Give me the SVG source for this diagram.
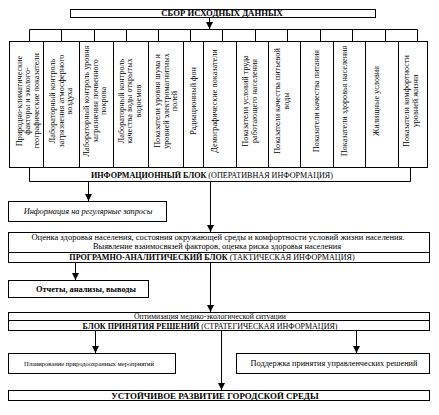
<svg xmlns="http://www.w3.org/2000/svg" width="439" height="415" viewBox="0 0 439 415">
<defs>
<marker id="ah" markerUnits="userSpaceOnUse" markerWidth="7" markerHeight="7" refX="7" refY="3.5" orient="auto">
<path d="M0,0 L7,3.5 L0,7 z" fill="#000"/>
</marker>
<style>
.box{fill:#fff;stroke:#000;stroke-width:1}
.ln{fill:none;stroke:#000;stroke-width:1}
.ar{fill:none;stroke:#000;stroke-width:1;marker-end:url(#ah)}
text{font-family:"Liberation Serif","Times New Roman",serif;fill:#000}
.col{font-size:8.2px;text-anchor:middle}
.t{font-size:8.5px;text-anchor:middle}
.b{font-weight:bold}
.i{font-style:italic}
</style>
</defs>
<rect width="439" height="415" fill="#fff"/>

<g id="connectors">
<line class="ar" x1="209.5" y1="17" x2="209.5" y2="29"/>
<line class="ln" x1="29.5" y1="29.5" x2="417.5" y2="29.5"/>
<path class="ln" d="M29.5,29.5V41 M61.5,29.5V41 M94.5,29.5V41 M126.5,29.5V41 M158.5,29.5V41 M190.5,29.5V41 M222.5,29.5V41 M255.5,29.5V41 M287.5,29.5V41 M320.5,29.5V41 M352.5,29.5V41 M385.5,29.5V41 M417.5,29.5V41"/>
<line class="ar" x1="88.5" y1="181" x2="88.5" y2="201"/>
<line class="ar" x1="210.5" y1="181" x2="210.5" y2="232"/>
<line class="ar" x1="75.5" y1="262" x2="75.5" y2="280"/>
<line class="ar" x1="210.5" y1="262" x2="210.5" y2="312"/>
<line class="ar" x1="95.5" y1="330" x2="95.5" y2="353"/>
<line class="ar" x1="356.5" y1="330" x2="356.5" y2="353"/>
<line class="ar" x1="221.5" y1="330" x2="221.5" y2="390"/>
</g>

<g id="sbor">
<rect class="box" x="70.5" y="9.5" width="305" height="8"/>
<text class="t b" x="222" y="16" style="font-size:8.7px">СБОР ИСХОДНЫХ ДАННЫХ</text>
</g>

<g id="columns">
<rect class="box" x="9.5" y="41.5" width="418" height="126"/>
<path class="ln" d="M43.5,41.5V167.5 M79.5,41.5V167.5 M113.5,41.5V167.5 M148.5,41.5V167.5 M183.5,41.5V167.5 M203.5,41.5V167.5 M236.5,41.5V167.5 M268.5,41.5V167.5 M300.5,41.5V167.5 M333.5,41.5V167.5 M365.5,41.5V167.5 M398.5,41.5V167.5"/>
</g>
<g id="c1"><text class="col" transform="translate(21.5,101) rotate(-90)">Природно-климатические</text><text class="col" transform="translate(30,101) rotate(-90)">факторы и эколого-</text><text class="col" transform="translate(38.5,101) rotate(-90)">географические показатели</text></g>
<g id="c2"><text class="col" transform="translate(55.3,101) rotate(-90)">Лабораторный контроль</text><text class="col" transform="translate(63.8,101) rotate(-90)">загрязнения атмосферного</text><text class="col" transform="translate(72.3,101) rotate(-90)">воздуха</text></g>
<g id="c3"><text class="col" transform="translate(89.3,101) rotate(-90)">Лабораторный контроль уровня</text><text class="col" transform="translate(97.8,101) rotate(-90)">загрязнения почвенного</text><text class="col" transform="translate(106.3,101) rotate(-90)">покрова</text></g>
<g id="c4"><text class="col" transform="translate(123.8,101) rotate(-90)">Лабораторный контроль</text><text class="col" transform="translate(132.3,101) rotate(-90)">качества воды открытых</text><text class="col" transform="translate(140.8,101) rotate(-90)">водоемов</text></g>
<g id="c5"><text class="col" transform="translate(160.3,101) rotate(-90)">Показатели уровня шума и</text><text class="col" transform="translate(168.8,101) rotate(-90)">уровней электромагнитных</text><text class="col" transform="translate(177.3,101) rotate(-90)">полей</text></g>
<g id="c6"><text class="col" transform="translate(195.8,101) rotate(-90)">Радиационный фон</text></g>
<g id="c7"><text class="col" transform="translate(217,101) rotate(-90)">Демографические показатели</text></g>
<g id="c8"><text class="col" transform="translate(247.5,101) rotate(-90)">Показатели условий труда</text><text class="col" transform="translate(256.5,101) rotate(-90)">работающего населения</text></g>
<g id="c9"><text class="col" transform="translate(280,101) rotate(-90)">Показатели качества питьевой</text><text class="col" transform="translate(289,101) rotate(-90)">воды</text></g>
<g id="c10"><text class="col" transform="translate(318.5,101) rotate(-90)">Показатели качества питания</text></g>
<g id="c11"><text class="col" transform="translate(346.5,101) rotate(-90)">Показатели здоровья населения</text></g>
<g id="c12"><text class="col" transform="translate(378.5,101) rotate(-90)">Жилищные условия</text></g>
<g id="c13"><text class="col" transform="translate(408.5,101) rotate(-90)">Показатели комфортности</text><text class="col" transform="translate(417.5,101) rotate(-90)">уровней жизни</text></g>

<g id="info">
<path class="ln" d="M29.5,167.5V181.5H410.5V167.5"/>
<text class="t" x="212" y="177.5" style="font-size:8.1px"><tspan class="b">ИНФОРМАЦИОННЫЙ БЛОК</tspan> (ОПЕРАТИВНАЯ ИНФОРМАЦИЯ)</text>
</g>

<g id="reg">
<rect class="box" x="8.5" y="201.5" width="158" height="20"/>
<text class="t i" x="88" y="214" style="font-size:8.3px">Информация на регулярные запросы</text>
</g>

<g id="analytic">
<rect class="box" x="8.5" y="232.5" width="421" height="30"/>
<line class="ln" x1="8.5" y1="252.5" x2="429.5" y2="252.5"/>
<text class="t" x="218" y="239.5">Оценка здоровья населения, состояния окружающей среды и комфортности условий жизни населения.</text>
<text class="t" x="217" y="248.5" style="font-size:8.4px">Выявление взаимосвязей факторов, оценка риска здоровья населения</text>
<text class="t" x="212" y="260" style="font-size:8.1px"><tspan class="b">ПРОГРАМНО-АНАЛИТИЧЕСКИЙ БЛОК</tspan> (ТАКТИЧЕСКАЯ ИНФОРМАЦИЯ)</text>
</g>

<g id="reports">
<rect class="box" x="8.5" y="280.5" width="140" height="17"/>
<text class="t b" x="86" y="291.5" style="font-size:8.3px">Отчеты, анализы, выводы</text>
</g>

<g id="decision">
<rect class="box" x="8.5" y="312.5" width="421" height="18"/>
<line class="ln" x1="8.5" y1="320.5" x2="429.5" y2="320.5"/>
<text class="t" x="210" y="318.5" style="font-size:7.7px">Оптимизация медико-экологической ситуации</text>
<text class="t" x="210" y="328.5" style="font-size:8px"><tspan class="b">БЛОК ПРИНЯТИЯ РЕШЕНИЙ</tspan> (СТРАТЕГИЧЕСКАЯ ИНФОРМАЦИЯ)</text>
</g>

<g id="plan">
<rect class="box" x="8.5" y="353.5" width="167" height="20"/>
<text class="t" x="89" y="366" style="font-size:6.5px">Планирование природоохранных мероприятий</text>
</g>

<g id="support">
<rect class="box" x="236.5" y="353.5" width="193" height="20"/>
<text class="t" x="334" y="366" style="font-size:8.3px">Поддержка принятия управленческих решений</text>
</g>

<g id="final">
<rect class="box" x="8.5" y="390.5" width="421" height="10"/>
<text class="t b" x="215" y="398.5" style="font-size:8.9px">УСТОЙЧИВОЕ РАЗВИТИЕ ГОРОДСКОЙ СРЕДЫ</text>
</g>
</svg>
